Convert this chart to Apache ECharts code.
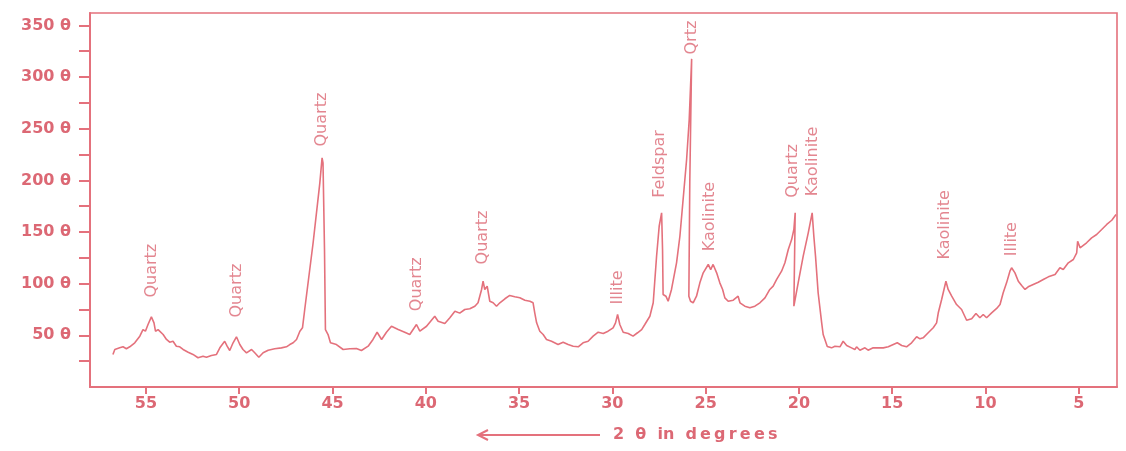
<!DOCTYPE html>
<html>
<head>
<meta charset="utf-8">
<script src="https://cdn.jsdelivr.net/npm/echarts@6/dist/echarts.min.js"></script>
<style>
html,body{margin:0;padding:0;background:#ffffff;}
#chart{width:1126px;height:451px;}
</style>
</head>
<body>
<div id="chart"></div>
<script>
// 2-theta (degrees) and intensity of the XRD trace
const twoTheta = [56.77,56.67,56.41,56.23,56.05,55.87,55.60,55.33,55.16,55.03,
54.89,54.71,54.57,54.49,54.35,54.08,53.90,53.73,53.55,53.37,
53.19,53.01,52.74,52.48,52.21,51.94,51.76,51.49,51.22,51.04,
50.78,50.65,50.51,50.33,50.15,49.97,49.80,49.61,49.34,49.17,
48.95,48.72,48.45,48.10,47.74,47.47,47.29,47.11,46.93,46.75,
46.61,46.49,46.04,45.68,45.56,45.51,45.43,45.38,45.24,45.11,
44.79,44.43,44.07,43.72,43.45,43.09,42.83,42.61,42.37,42.11,
41.84,41.48,41.13,40.86,40.50,40.32,39.96,39.52,39.34,38.98,
38.71,38.44,38.18,37.91,37.64,37.37,37.20,37.01,36.93,36.84,
36.71,36.57,36.39,36.21,36.03,35.76,35.50,35.23,34.96,34.69,
34.42,34.25,34.16,34.06,33.89,33.71,33.53,33.26,32.91,32.64,
32.37,32.10,31.83,31.57,31.30,31.03,30.76,30.49,30.23,29.96,
29.83,29.72,29.60,29.42,29.15,28.89,28.65,28.43,28.26,27.99,
27.81,27.63,27.49,27.36,27.31,27.28,27.13,27.01,26.83,26.56,
26.38,26.02,25.88,25.75,25.85,25.90,25.81,25.67,25.49,25.31,
25.13,24.86,24.73,24.60,24.41,24.24,24.09,23.97,23.79,23.52,
23.26,23.16,22.90,22.63,22.36,22.09,21.82,21.56,21.38,21.20,
20.93,20.75,20.57,20.39,20.27,20.20,20.27,20.04,19.77,19.50,
19.29,19.20,19.11,18.97,18.78,18.70,18.48,18.25,18.07,17.80,
17.63,17.44,17.18,17.00,16.91,16.73,16.46,16.29,16.02,15.75,
15.48,15.21,14.94,14.73,14.49,14.23,13.96,13.69,13.51,13.34,
13.07,12.80,12.62,12.53,12.35,12.12,12.00,11.81,11.55,11.28,
11.01,10.74,10.51,10.30,10.12,9.94,9.67,9.40,9.22,9.05,
8.87,8.69,8.60,8.42,8.24,8.06,7.88,7.71,7.44,7.17,
6.90,6.63,6.27,6.01,5.83,5.56,5.29,5.11,5.06,4.93,
4.58,4.31,4.04,3.77,3.50,3.23,3.00];

const intensity = [31.5,36.3,37.9,38.9,37.0,38.9,42.8,49.2,55.6,54.0,
60.5,67.9,62.1,54.0,55.6,50.8,46.0,43.4,44.3,39.5,
38.9,36.3,33.7,31.5,28.3,29.8,28.8,30.5,31.5,37.9,
44.3,39.5,35.3,42.8,48.6,41.1,36.3,33.1,36.3,33.1,
28.8,33.1,35.6,37.0,37.9,38.9,41.1,42.8,46.0,54.0,
57.3,75.0,139.6,197.6,221.8,217.0,133.1,55.6,50.8,42.8,
41.1,36.3,37.0,37.3,35.3,39.5,46.0,53.0,46.0,53.0,
58.8,55.6,53.0,50.8,60.5,54.0,58.8,68.5,63.7,61.5,
67.0,73.4,71.5,75.0,75.7,78.2,81.5,94.4,102.4,94.4,
97.6,83.0,81.5,78.2,81.5,85.4,88.6,87.3,86.3,84.0,
83.0,81.5,71.8,62.1,54.0,50.8,46.0,44.3,41.1,43.4,
41.1,39.5,38.9,42.8,44.3,49.2,53.0,51.8,54.0,57.3,
62.1,70.2,60.5,53.0,51.8,49.2,52.5,55.6,60.5,68.5,
81.5,126.6,155.6,168.6,133.1,89.5,87.9,83.0,94.4,120.2,
145.9,220.2,258.9,317.6,197.9,87.9,83.0,81.5,87.9,100.8,
110.5,118.6,113.7,118.6,110.5,100.8,94.4,86.3,83.0,84.0,
87.9,81.5,78.2,76.6,78.2,81.5,86.3,94.4,97.6,104.0,
112.1,120.2,133.1,142.7,152.4,168.6,78.2,100.8,126.6,149.2,
168.6,145.9,126.6,91.2,62.1,50.8,39.2,37.9,39.5,38.9,
44.3,40.2,37.9,36.3,38.9,35.6,37.9,35.6,37.9,37.9,
37.9,38.9,41.1,42.8,40.2,38.9,42.8,48.6,46.6,47.6,
52.5,57.3,62.1,71.8,84.7,102.4,94.4,87.9,79.8,75.0,
64.6,66.0,71.1,67.0,70.2,67.0,71.8,76.0,79.8,91.2,
100.8,112.1,115.4,110.5,102.4,98.2,94.4,97.0,99.2,101.4,
104.0,106.6,108.9,115.4,113.7,120.2,123.4,129.9,141.1,134.7,
139.6,144.4,147.6,152.4,157.3,161.4,166.9];

// Peak annotations: mineral name, 2-theta and intensity where the text starts
const peakNames = ['Quartz','Quartz','Quartz','Quartz','Quartz','Illite','Feldspar','Qrtz','Kaolinite','Quartz','Kaolinite','Kaolinite','Illite'];
const peakTheta = [54.69,50.13,45.58,40.50,36.93,29.69,27.45,25.75,24.77,20.31,19.27,12.17,8.60];
const peakLevel = [86.6,67.3,232.8,73.4,118.6,79.8,183.1,321.8,131.4,183.1,184.7,123.4,126.6];

// Axis ticks
const xTickValues = [55,50,45,40,35,30,25,20,15,10,5];
const yTickValues = [25,50,75,100,125,150,175,200,225,250,275,300,325,350];
const yLabelValues = [50,100,150,200,250,300,350];
const xAxisTitle = '2  θ  in  d\u2009e\u2009g\u2009r\u2009e\u2009e\u2009s';

const RED = '#e4717c';
const TXT = '#dc6874';

const chart = echarts.init(document.getElementById('chart'), null, {renderer:'canvas'});
const option = {
  animation: false,
  backgroundColor: '#ffffff',
  grid: {left: 90, right: 9, top: 13, bottom: 64, show: true, borderColor: RED, borderWidth: 1.6, backgroundColor: 'transparent'},
  xAxis: {
    type: 'value', inverse: true, min: 2.95, max: 58.0,
    axisLine: {show: true, lineStyle: {color: RED, width: 2}},
    axisTick: {show: true, length: 7, inside: false, customValues: xTickValues, lineStyle: {color: RED, width: 2}},
    axisLabel: {show: true, customValues: xTickValues, margin: 9, color: TXT, fontFamily: 'DejaVu Sans', fontWeight: 'bold', fontSize: 16, formatter: v => String(v)},
    splitLine: {show: false}
  },
  yAxis: {
    type: 'value', min: 0, max: 362,
    axisLine: {show: true, lineStyle: {color: RED, width: 2}},
    axisTick: {show: true, length: 11, customValues: yTickValues, lineStyle: {color: RED, width: 2}},
    axisLabel: {show: true, customValues: yLabelValues, margin: 19, color: TXT, fontFamily: 'DejaVu Sans', fontWeight: 'bold', fontSize: 16, formatter: v => v + ' θ'},
    splitLine: {show: false}
  },
  graphic: [
    {type: 'line', shape: {x1: 478, y1: 435, x2: 600, y2: 435}, style: {stroke: RED, lineWidth: 2}},
    {type: 'polyline', shape: {points: [[488, 430], [478, 435], [488, 440]]}, style: {stroke: RED, lineWidth: 2, fill: null}},
    {type: 'text', x: 613, y: 435, style: {text: xAxisTitle, fill: TXT, font: 'bold 16px "DejaVu Sans"', textVerticalAlign: 'middle', textAlign: 'left'}}
  ],
  series: [
    {
      type: 'line',
      data: twoTheta.map((d, i) => [d, intensity[i]]),
      showSymbol: false,
      symbol: 'none',
      lineStyle: {color: RED, width: 1.6},
      z: 3
    },
    {
      type: 'scatter',
      data: peakTheta.map((d, i) => ({value: [d, peakLevel[i]], name: peakNames[i]})),
      symbolSize: 0.1,
      itemStyle: {color: 'transparent'},
      label: {
        show: true, position: 'inside', rotate: 90, align: 'left', verticalAlign: 'middle',
        formatter: p => p.name, color: TXT, fontFamily: 'DejaVu Sans', fontSize: 16
      },
      z: 4
    }
  ]
};
chart.setOption(option);
</script>
</body>
</html>
